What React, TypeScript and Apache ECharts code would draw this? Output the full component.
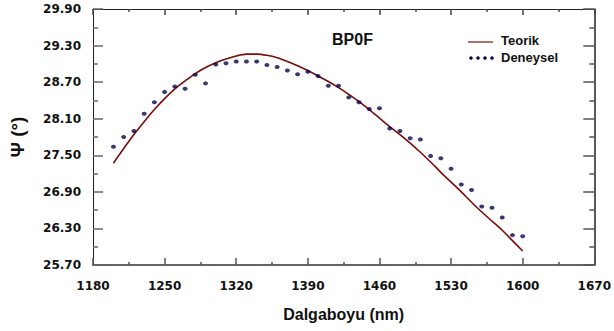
import React, { useEffect, useRef } from "react";
import * as echarts from "echarts";

const wavelengths = [
  1200, 1210, 1220, 1230, 1240, 1250, 1260, 1270, 1280, 1290, 1300, 1310, 1320, 1330,
  1340, 1350, 1360, 1370, 1380, 1390, 1400, 1410, 1420, 1430, 1440, 1450, 1460, 1470,
  1480, 1490, 1500, 1510, 1520, 1530, 1540, 1550, 1560, 1570, 1580, 1590, 1600,
];

const teorik = [
  27.37, 27.61, 27.84, 28.05, 28.25, 28.43, 28.59, 28.72, 28.84, 28.94, 29.02, 29.08, 29.13, 29.16,
  29.16, 29.14, 29.1, 29.04, 28.97, 28.89, 28.8, 28.71, 28.61, 28.5, 28.38, 28.25, 28.11, 27.97,
  27.84, 27.7, 27.55, 27.39, 27.22, 27.06, 26.9, 26.73, 26.57, 26.42, 26.27, 26.1, 25.93,
];

const deneysel = [
  27.64, 27.8, 27.9, 28.18, 28.37, 28.54, 28.63, 28.59, 28.82, 28.68, 28.99, 29.01, 29.04, 29.04,
  29.04, 28.98, 28.95, 28.89, 28.83, 28.87, 28.8, 28.64, 28.64, 28.45, 28.37, 28.26, 28.27, 27.94,
  27.9, 27.78, 27.76, 27.49, 27.45, 27.28, 27.02, 26.93, 26.66, 26.64, 26.48, 26.19, 26.17,
];

const xTickLabels = [1180, 1250, 1320, 1390, 1460, 1530, 1600, 1670];
const xMinorTicks = [1215, 1285, 1355, 1425, 1495, 1565, 1635];
const yTickLabels = [25.7, 26.3, 26.9, 27.5, 28.1, 28.7, 29.3, 29.9];
const yMinorTicks = [26.0, 26.6, 27.2, 27.8, 28.4, 29.0, 29.6];

const X_MIN = 1180;
const X_MAX = 1670;
const Y_MIN = 25.7;
const Y_MAX = 29.9;

const labelFont = {
  fontFamily: "DejaVu Sans",
  fontWeight: "bold" as const,
  fontSize: 12,
  color: "#111",
};

export default function App() {
  const ref = useRef<HTMLDivElement>(null);

  useEffect(() => {
    if (!ref.current) return;
    const chart = echarts.init(ref.current, undefined, { renderer: "svg" });

    const baseX = { type: "value" as const, min: X_MIN, max: X_MAX, splitLine: { show: false } };
    const baseY = { type: "value" as const, min: Y_MIN, max: Y_MAX, splitLine: { show: false } };

    chart.setOption({
      animation: false,
      backgroundColor: "#fff",
      grid: { left: 92, right: 16, top: 9, bottom: 66, containLabel: false },
      xAxis: [
        {
          ...baseX,
          position: "bottom",
          axisLine: { show: true, onZero: false, lineStyle: { color: "#666", width: 2 } },
          axisTick: {
            show: true,
            inside: true,
            length: 7,
            customValues: xTickLabels,
            lineStyle: { color: "#555", width: 1.5 },
          },
          axisLabel: {
            show: true,
            customValues: xTickLabels,
            margin: 15,
            formatter: (v: number) => String(v),
            ...labelFont,
          },
          name: "Dalgaboyu (nm)",
          nameLocation: "middle",
          nameGap: 41,
          nameTextStyle: {
            fontFamily: "Liberation Sans",
            fontWeight: "bold",
            fontSize: 16,
            color: "#111",
          },
        },
        {
          ...baseX,
          position: "bottom",
          axisLine: { show: false },
          axisTick: {
            show: true,
            inside: true,
            length: 3,
            customValues: xMinorTicks,
            lineStyle: { color: "#555", width: 1.5 },
          },
          axisLabel: { show: false },
        },
        {
          ...baseX,
          position: "top",
          axisLine: { show: true, onZero: false, lineStyle: { color: "#222", width: 1 } },
          axisTick: {
            show: true,
            inside: true,
            length: 6,
            customValues: xTickLabels,
            lineStyle: { color: "#444", width: 1.5 },
          },
          axisLabel: { show: false },
        },
        {
          ...baseX,
          position: "top",
          axisLine: { show: false },
          axisTick: {
            show: true,
            inside: true,
            length: 3,
            customValues: xMinorTicks,
            lineStyle: { color: "#444", width: 1.5 },
          },
          axisLabel: { show: false },
        },
      ],
      yAxis: [
        {
          ...baseY,
          position: "left",
          axisLine: { show: true, onZero: false, lineStyle: { color: "#222", width: 1 } },
          axisTick: {
            show: true,
            inside: true,
            length: 10,
            customValues: yTickLabels,
            lineStyle: { color: "#666", width: 1.5 },
          },
          axisLabel: {
            show: true,
            customValues: yTickLabels,
            margin: 12,
            formatter: (v: number) => v.toFixed(2),
            ...labelFont,
          },
          name: "Ψ (°)",
          nameLocation: "middle",
          nameGap: 66,
          nameTextStyle: {
            fontFamily: "Liberation Sans",
            fontWeight: "bold",
            fontSize: 19,
            color: "#111",
          },
        },
        {
          ...baseY,
          position: "left",
          axisLine: { show: false },
          axisTick: {
            show: true,
            inside: true,
            length: 5,
            customValues: yMinorTicks,
            lineStyle: { color: "#666", width: 1.5 },
          },
          axisLabel: { show: false },
        },
        {
          ...baseY,
          position: "right",
          axisLine: { show: true, onZero: false, lineStyle: { color: "#222", width: 1.5 } },
          axisTick: {
            show: true,
            inside: true,
            length: 11,
            customValues: yTickLabels,
            lineStyle: { color: "#555", width: 1.5 },
          },
          axisLabel: { show: false },
        },
        {
          ...baseY,
          position: "right",
          axisLine: { show: false },
          axisTick: {
            show: true,
            inside: true,
            length: 5,
            customValues: yMinorTicks,
            lineStyle: { color: "#555", width: 1.5 },
          },
          axisLabel: { show: false },
        },
      ],
      series: [
        {
          name: "Teorik",
          type: "line",
          xAxisIndex: 0,
          yAxisIndex: 0,
          data: wavelengths.map((w, i) => [w, teorik[i]]),
          showSymbol: false,
          smooth: 0.3,
          lineStyle: { color: "#7a0c0c", width: 1.6 },
          z: 2,
        },
        {
          name: "Deneysel",
          type: "scatter",
          xAxisIndex: 0,
          yAxisIndex: 0,
          data: wavelengths.map((w, i) => [w, deneysel[i]]),
          symbol: "circle",
          symbolSize: [5, 4],
          itemStyle: { color: "#06064f" },
          z: 3,
        },
      ],
      graphic: [
        {
          type: "text",
          left: 332,
          top: 31,
          style: {
            text: "BP0F",
            font: "bold 16px 'Liberation Sans'",
            fill: "#111",
          },
        },
        {
          type: "line",
          shape: { x1: 468, y1: 42, x2: 493, y2: 42 },
          style: { stroke: "#7a0c0c", lineWidth: 1.2 },
        },
        {
          type: "text",
          left: 501,
          top: 34,
          style: { text: "Teorik", font: "bold 13px 'Liberation Sans'", fill: "#111" },
        },
        ...[471, 478, 485, 492].map((cx) => ({
          type: "circle",
          shape: { cx, cy: 58, r: 1.8 },
          style: { fill: "#06064f" },
        })),
        {
          type: "text",
          left: 501,
          top: 51,
          style: { text: "Deneysel", font: "bold 13px 'Liberation Sans'", fill: "#111" },
        },
      ],
    });

    return () => chart.dispose();
  }, []);

  return (
    <div
      ref={ref}
      style={{ position: "fixed", left: 0, top: 0, width: 614, height: 331, background: "#fff" }}
    />
  );
}
